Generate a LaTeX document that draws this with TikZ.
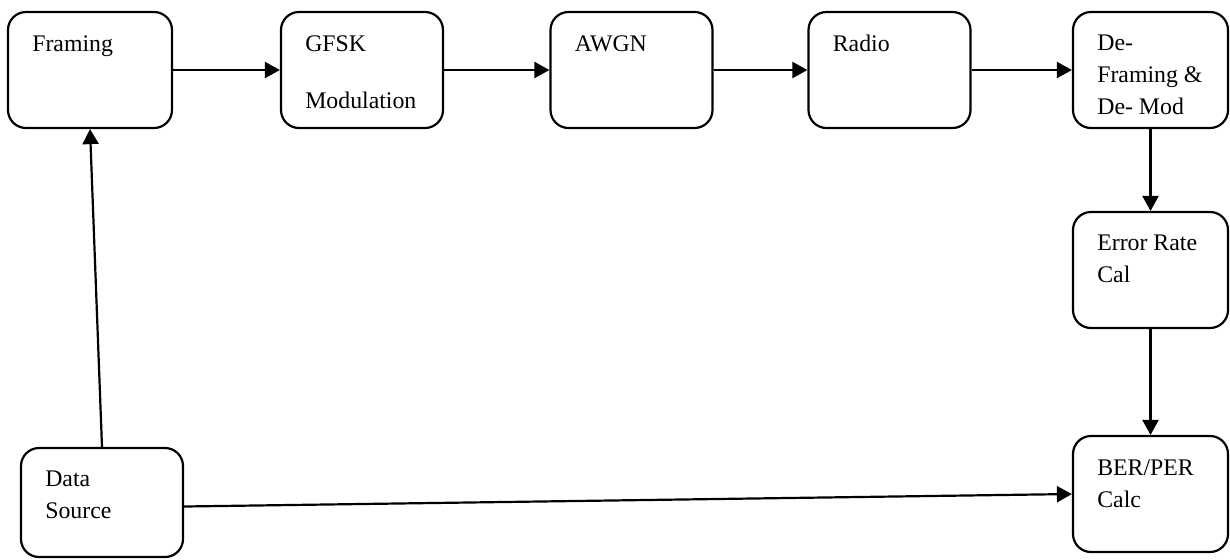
\documentclass[tikz,border=0pt]{standalone}
\usepackage{fontspec}
\setmainfont{Liberation Serif}
\usetikzlibrary{arrows.meta}
\begin{document}
\begin{tikzpicture}[x=0.5pt,y=-0.5pt,
        blk/.style={draw=black, line width=1.1pt, rounded corners=9pt,
            minimum width=81pt, minimum height=58pt, inner sep=0pt},
        lbl/.style={anchor=north west, inner sep=0pt, align=left,
            font=\fontsize{11.9}{16}\selectfont},
        arr/.style={draw=black, line width=1.1pt, -{Triangle[length=7.5pt,width=8pt]}}]
        \useasboundingbox (0,0) rectangle (1230,559);

        % top row
        \node[blk, minimum width=82pt] (fr) at (90,70) {};
        \node[blk] (gm) at (362,70) {};
        \node[blk] (aw) at (631.5,70) {};
        \node[blk] (ra) at (889.5,70) {};
        \node[blk, minimum width=77.5pt] (df) at (1150.5,70) {};

        % right column
        \node[blk, minimum width=77.5pt] (er) at (1150.5,270) {};
        \node[blk, minimum width=77.5pt] (bp) at (1150.5,494) {};

        % source
        \node[blk, minimum height=54.5pt] (ds) at (102,502.5) {};

        \node[lbl] (frt) at ([xshift=12.5pt,yshift=-12pt]fr.north west) {Framing};
        \node[lbl] (gmt) at ([xshift=12.5pt,yshift=-12pt]gm.north west) {GFSK\\[12.5pt]Modulation};
        \node[lbl] (awt) at ([xshift=12.5pt,yshift=-12pt]aw.north west) {AWGN};
        \node[lbl] (rat) at ([xshift=12.5pt,yshift=-12pt]ra.north west) {Radio};
        \node[lbl] (dft) at ([xshift=12.5pt,yshift=-12pt]df.north west) {De-\\Framing \&\\De- Mod};
        \node[lbl] (ert) at ([xshift=12.5pt,yshift=-12pt]er.north west) {Error Rate\\Cal};
        \node[lbl] (bpt) at ([xshift=12.5pt,yshift=-12pt]bp.north west) {BER/PER\\Calc};
        \node[lbl] (dst) at ([xshift=12.5pt,yshift=-12pt]ds.north west) {Data\\Source};

        \draw[arr] (fr.east) -- (gm.west);
        \draw[arr] (gm.east) -- (aw.west);
        \draw[arr] (aw.east) -- (ra.west);
        \draw[arr] (ra.east) -- (df.west);
        \draw[arr] (df.south) -- (er.north);
        \draw[arr] (er.south) -- (bp.north);
        \draw[arr] (ds.north) -- (fr.south);
        \draw[arr] ([yshift=-2pt]ds.east) -- (bp.west);

\end{tikzpicture}
\end{document}
